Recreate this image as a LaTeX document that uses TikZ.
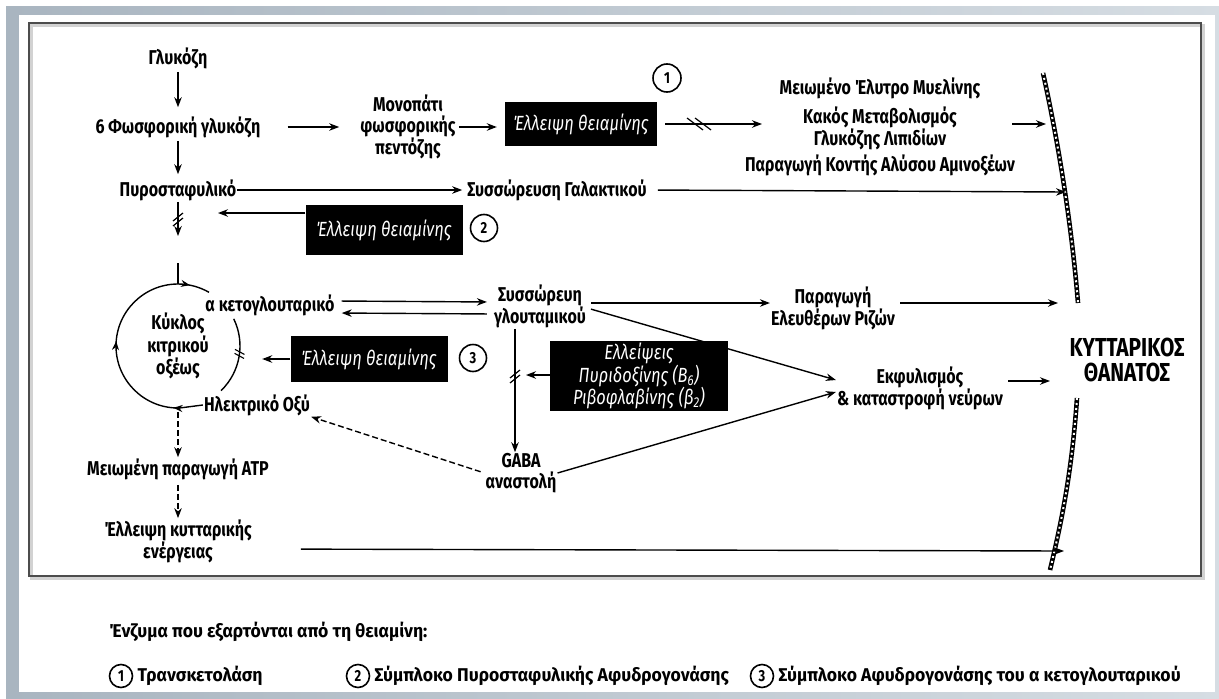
\documentclass[tikz,border=0pt]{standalone}
\usepackage{fontspec}
\setmainfont{Fira Sans}[FakeStretch=0.8]
\newfontfamily\legfont{Fira Sans}[FakeStretch=0.95]
\usetikzlibrary{arrows.meta,decorations.markings,calc}
\definecolor{frameblue}{RGB}{169,181,192}
\definecolor{framelight}{RGB}{214,221,227}
\tikzset{
 txt/.style={font=\fontsize{20}{20.5}\selectfont\bfseries, align=center, inner sep=1pt},
 bigtxt/.style={font=\fontsize{26}{25}\selectfont\bfseries, align=center, inner sep=1pt},
 legt/.style={font=\legfont\fontsize{18.5}{20}\selectfont\bfseries, inner sep=1pt},
 bbox/.style={fill=black, text=white, font=\fontsize{20.5}{20.5}\selectfont\itshape, align=center, inner sep=0pt},
 circnum/.style={circle, draw, line width=1.6pt, minimum size=27pt, inner sep=0pt, font=\fontsize{16}{16}\selectfont\bfseries},
 arr/.style={-{Stealth[length=10pt,width=7.5pt]}, line width=1.4pt},
 darr/.style={arr, dash pattern=on 6pt off 3pt},
 ln/.style={line width=1.4pt},
 hatchline/.style={white, line width=2pt, dash pattern=on 2pt off 3pt, preaction={draw=black, line width=4.6pt, solid}},
 brkv/.pic={\draw[line width=1.2pt] (-5,3)--(5,-5) (-5,8)--(5,0);},
 brkh/.pic={\draw[line width=1.2pt] (-15,-6)--(1,6) (-7,-6)--(9,6);}
}
\begin{document}
\begin{tikzpicture}[x=1pt,y=-1pt]
\useasboundingbox (0,0) rectangle (1219,699);
% frame
\fill[white] (0,0) rectangle (1219,699);
\shade[left color=frameblue, middle color=frameblue!80!framelight, right color=framelight] (6,6) rectangle (1219,699);
\fill[white] (19,15) rectangle (1215,692);
\draw[line width=3pt, gray!35] (31,25) rectangle (1203,578);
\draw[line width=2.6pt, black!70] (29,23) rectangle (1201,576);

% nodes
\node[txt] (glu) at (178,58) {Γλυκόζη};
\node[txt] (g6p) at (178,127) {6 Φωσφορική γλυκόζη};
\node[txt] (ppp) at (408,127) {Μονοπάτι\\φωσφορικής\\πεντόζης};
\node[bbox, minimum width=152pt, minimum height=44pt] (b1) at (581,124) {Έλλειψη θειαμίνης};
\node[circnum, minimum size=28pt] (c1) at (667,78) {1};
\node[txt] (mye) at (880,88) {Μειωμένο Έλυτρο Μυελίνης};
\node[txt] (kak) at (880,128) {Κακός Μεταβολισμός\\Γλυκόζης Λιπιδίων};
\node[txt] (ami) at (880,165) {Παραγωγή Κοντής Αλύσου Αμινοξέων};
\node[txt] (pyr) at (178,190) {Πυροσταφυλικό};
\node[txt] (lac) at (557,190) {Συσσώρευση Γαλακτικού};
\node[bbox, minimum width=157pt, minimum height=50pt] (b2) at (384,230) {Έλλειψη θειαμίνης};
\node[circnum] (c2) at (484,228) {2};
\node[txt, circle, minimum size=124pt, inner sep=0pt] (cyc) at (178,346) {Κύκλος\\κιτρικού\\οξέως};
\node[txt] (akg) at (270,305) {α κετογλουταρικό};
\node[txt] (suc) at (257,405) {Ηλεκτρικό Οξύ};
\node[txt] (glt) at (540,306) {Συσσώρευη\\γλουταμικού};
\node[bbox, minimum width=157pt, minimum height=46pt] (b3) at (369,359) {Έλλειψη θειαμίνης};
\node[circnum] (c3) at (473,358) {3};
\node[bbox, minimum width=178pt, minimum height=70pt] (b4) at (639,376) {Ελλείψεις\\Πυριδοξίνης (B\textsubscript{6})\\Ριβοφλαβίνης (β\textsubscript{2})};
\node[txt] (ros) at (833,308) {Παραγωγή\\Ελευθέρων Ριζών};
\node[txt] (neu) at (920,388) {Εκφυλισμός\\\& καταστροφή νεύρων};
\node[txt] (gab) at (521,473) {GABA\\αναστολή};
\node[txt] (atp) at (178,469) {Μειωμένη παραγωγή ATP};
\node[txt] (ene) at (178,541) {Έλλειψη κυτταρικής\\ενέργειας};
\node[bigtxt] (dea) at (1127,360) {ΚΥΤΤΑΡΙΚΟΣ\\ΘΑΝΑΤΟΣ};

% barrier
\draw[hatchline] (1043,73) .. controls (1060,150) and (1072,230) .. (1078,303);
\draw[hatchline] (1077,398) .. controls (1072,470) and (1062,520) .. (1050,570);
\coordinate (w1) at (1046,124);
\coordinate (w2) at (1066,192);
\coordinate (w3) at (1058,303);
\coordinate (w5) at (1050,381);
\coordinate (w4) at (1064,551);

% coordinates for breaks
\coordinate (bk1) at (178,218);
\coordinate (bk2) at (515,375);
\coordinate (top) at (178,263);

% connectors
\draw[arr, shorten <=2pt, shorten >=8pt] (glu) -- (g6p);
\draw[arr, shorten <=2pt, shorten >=4pt] (g6p) -- (pyr);
\draw[arr, shorten <=26pt, shorten >=20pt] (g6p) -- (ppp);
\draw[arr, shorten <=2pt, shorten >=8pt] (ppp.east) -- (ppp.east -| b1.west);
\draw[arr, shorten <=8pt, shorten >=40pt] (b1) -- (b1 -| kak.west);
\pic at (702,124) {brkh};
\draw[arr] ([xshift=-4pt]ami.east |- w1) -- (w1);
\draw[arr, shorten <=0pt, shorten >=4pt] (pyr) -- (lac);
\draw[arr, shorten <=10pt] (lac.east) -- (w2);
\draw[arr] (pyr.south) -- ([yshift=-18pt]bk1);
\pic at (bk1) {brkv};
\draw[arr, shorten >=40pt] (b2.west |- 0,213) -- (bk1 |- 0,213);
\draw[ln] (top) -- (cyc.north);
% citric acid cycle
\draw[ln, postaction={decorate}, decoration={markings,
   mark=at position 0.02 with {\arrow{Stealth[length=9pt,width=7pt]}},
   mark=at position 0.45 with {\arrow{Stealth[length=9pt,width=7pt]}},
   mark=at position 0.91 with {\arrow{Stealth[length=9pt,width=7pt]}}}]
  (cyc.center) ++(90:62) arc[start angle=90, end angle=300, radius=62];
\draw[ln, postaction={decorate}, decoration={markings,
   mark=at position 0.45 with {\draw[line width=1.1pt] (-3pt,-5pt)--(1pt,5pt) (1pt,-5pt)--(5pt,5pt);}}]
  (cyc.center) ++(-26:62) arc[start angle=-26, end angle=46, radius=62];
\draw[ln] (suc.west) -- (cyc.south);
\draw[arr, shorten <=6pt, shorten >=6pt] ([yshift=4pt]akg.east) -- ([yshift=4pt]glt.west);
\draw[arr, shorten <=6pt, shorten >=6pt] ([yshift=-8pt]glt.west) -- ([yshift=-8pt]akg.east);
\draw[arr, shorten >=22pt] (b3.west) -- (b3.west -| cyc.east);
\draw[arr] (glt.south -| bk2) -- (gab.north -| bk2);
\pic at (bk2) {brkv};
\draw[arr, shorten >=11pt] (b4.west |- bk2) -- (bk2);
\draw[arr, shorten <=4pt] ([yshift=3pt]glt.east) -- ([yshift=5pt]ros.west);
\draw[arr, shorten <=4pt] ([yshift=5pt]ros.east) -- (w3);
\draw[arr, shorten <=4pt] ([yshift=-2pt]glt.east) -- ([yshift=8pt]neu.west);
\draw[arr] (gab.east) -- ([yshift=-4pt]neu.west);
\draw[arr, shorten <=4pt] (neu.east |- w5) -- (w5);
\draw[darr, shorten <=4pt] (gab.west) -- (suc.south east);
\draw[darr, shorten <=4pt] (cyc.south) -- (atp.north);
\draw[darr, shorten <=4pt] (atp.south) -- (ene.north);
\draw[arr, shorten <=48pt] ([yshift=-8pt]ene.east) -- (w4);

% legend
\node[legt, anchor=west] (lt) at (108,632) {Ένζυμα που εξαρτόνται από τη θειαμίνη:};
\node[circnum, minimum size=23pt] (l1) at (121,676) {1};
\node[legt, anchor=west] (l1t) at ([xshift=3pt]l1.east) {Τρανσκετολάση};
\node[circnum, minimum size=23pt] (l2) at (358,676) {2};
\node[legt, anchor=west] (l2t) at ([xshift=3pt]l2.east) {Σύμπλοκο Πυροσταφυλικής Αφυδρογονάσης};
\node[circnum, minimum size=23pt] (l3) at (762,676) {3};
\node[legt, anchor=west] (l3t) at ([xshift=3pt]l3.east) {Σύμπλοκο Αφυδρογονάσης του α κετογλουταρικού};
\end{tikzpicture}
\end{document}
